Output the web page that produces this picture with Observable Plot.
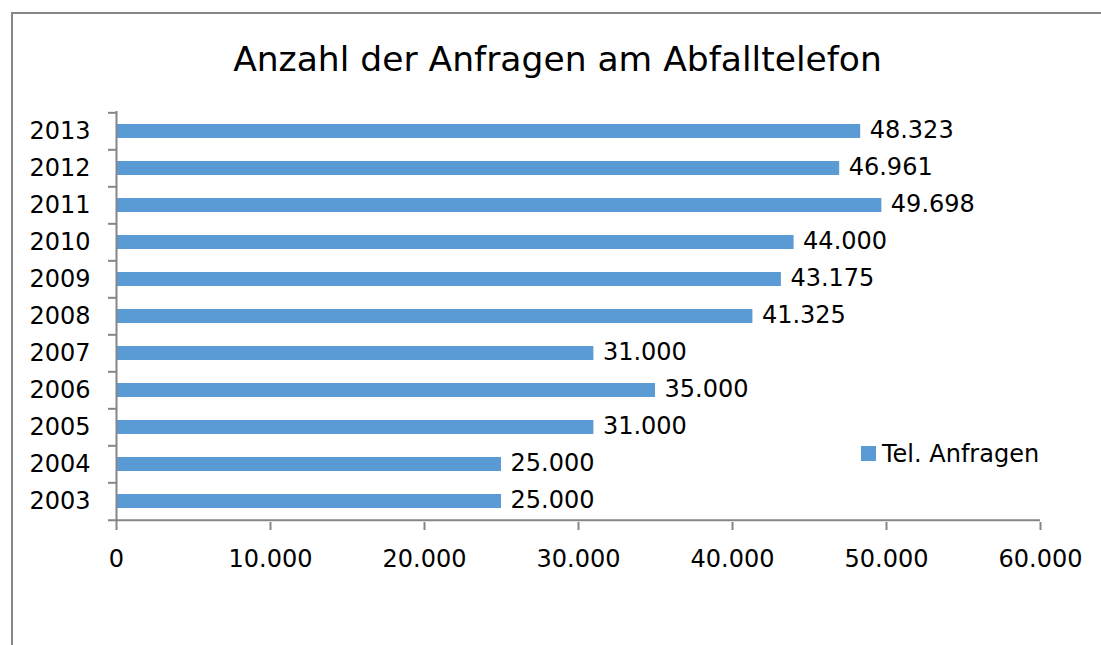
<!DOCTYPE html>
<html><head><meta charset="utf-8">
<script src="https://cdn.jsdelivr.net/npm/d3@7"></script>
<script src="https://cdn.jsdelivr.net/npm/@observablehq/plot@0.6"></script>
<style>
body{margin:0;background:#fff;}
#wrap{position:relative;width:1101px;height:645px;overflow:hidden;font-family:"DejaVu Sans",sans-serif;}
#border{position:absolute;left:11px;top:12px;width:1200px;height:800px;border:2px solid #878787;box-sizing:border-box;}
#chart{position:absolute;left:0;top:0;}
#overlay{position:absolute;left:0;top:0;}
</style></head>
<body><div id="wrap"><div id="border"></div><div id="chart"></div>
<svg id="overlay" width="1101" height="645" font-family="'DejaVu Sans', sans-serif">
<text id="title" x="557.5" y="71" text-anchor="middle" font-size="34.5" fill="#000">Anzahl der Anfragen am Abfalltelefon</text>
<rect id="legsw" x="861" y="446" width="15" height="15" fill="#5B9BD5"></rect>
<text id="legtx" x="882" y="461.5" font-size="24" fill="#000">Tel. Anfragen</text>
</svg>
</div>
<script>
const years = ["2003","2004","2005","2006","2007","2008","2009","2010","2011","2012","2013"];
const values = [25000,25000,31000,35000,31000,41325,43175,44000,49698,46961,48323];
const xTicks = [0,10000,20000,30000,40000,50000,60000];
const seriesName = "Tel. Anfragen";
const titleText = "Anzahl der Anfragen am Abfalltelefon";

const data = years.map((y,i)=>({year:y, value:values[i]}));
const yDomain = years.slice().reverse();
const de = d3.formatLocale({decimal:",", thousands:".", grouping:[3], currency:["","€"]});
const fmt = de.format(",");
const gray = "#868686";
const blue = "#5B9BD5";
const W = 1101, H = 645, mL = 116, mR = 61, mT = 111, mB = 123;
const step = (H - mT - mB) / years.length;
const tickLenData = 8 * 60000 / (W - mL - mR);
const font = "'DejaVu Sans', sans-serif";

const plot = Plot.plot({
  width: W, height: H,
  marginLeft: mL, marginRight: mR, marginTop: mT, marginBottom: mB,
  style: {fontFamily: font, color: "#000", background: "transparent", overflow: "visible"},
  x: {domain: [0, 60000]},
  y: {domain: yDomain, paddingInner: 0.61, paddingOuter: 0.305},
  marks: [
    Plot.barX(data, {x: "value", y: "year", fill: blue}),
    Plot.text(data, {x: "value", y: "year", text: d => fmt(d.value), textAnchor: "start", dx: 9, dy: -1, fontSize: 24, fill: "#000"}),
    Plot.ruleY(yDomain, {y: d => d, dy: -step/2, x1: -tickLenData, x2: 0, stroke: gray, strokeWidth: 2}),
    Plot.ruleY([yDomain[yDomain.length-1]], {y: d => d, dy: step/2, x1: -tickLenData, x2: 60000, stroke: gray, strokeWidth: 2}),
    Plot.ruleX([0], {stroke: gray, strokeWidth: 2}),
    Plot.axisX({ticks: xTicks, tickSize: 8, tickPadding: 19, stroke: gray, strokeWidth: 2, tickFormat: fmt, fontSize: 24, fill: "#000", label: null}),
    Plot.axisY({tickSize: 0, tickPadding: 26, fontSize: 24, fill: "#000", label: null})
  ]
});
document.getElementById("chart").appendChild(plot);
document.getElementById("title").textContent = titleText;
document.getElementById("legtx").textContent = seriesName;
</script>
</body></html>
